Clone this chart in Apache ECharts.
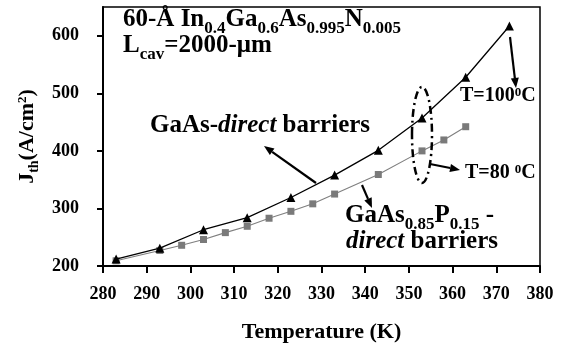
<!DOCTYPE html>
<html><head><meta charset="utf-8">
<script src="https://cdn.jsdelivr.net/npm/echarts@6/dist/echarts.min.js"></script>
<style>html,body{margin:0;padding:0;background:#fff}#c{width:564px;height:345px}</style>
</head><body><div id="c"></div><script>
// ---- data ----
const xTicks = [280, 290, 300, 310, 320, 330, 340, 350, 360, 370, 380];
const yTicks = [200, 300, 400, 500, 600];
const directT = [283, 293, 303, 313, 323, 333, 343, 353, 363, 373];
const directJ = [212, 231, 263, 284, 319, 358, 401, 457, 528, 617];
const gaaspT = [283, 293, 298, 303, 308, 313, 318, 323, 328, 333, 343, 353, 358, 363];
const gaaspJ = [209, 227, 236, 246, 258, 269, 283, 295, 308, 325, 359, 400, 419, 442];
const xName = 'Temperature (K)';

const FF = 'Liberation Serif';
function rs(size, extra) {
  return Object.assign({fontFamily: FF, fontWeight: 'bold', fontSize: size, color: '#000', verticalAlign: 'top', lineHeight: size + 3}, extra || {});
}
const richMain = {
  m: rs(25),
  i: rs(25, {fontStyle: 'italic'}),
  s: rs(17, {lineHeight: 19, padding: [13, 0, 0, 0]}),
  p: rs(15, {lineHeight: 17, padding: [0, 0, 0, 0]})
};
const richSmall = {
  m: rs(20),
  p: rs(13, {lineHeight: 15, padding: [0, 0, 0, 0]})
};

function txt(x, y, text, rich) {
  return {type: 'text', x: x, y: y, z: 100,
    style: {text: text, rich: rich, align: 'left', verticalAlign: 'top', fill: '#000'}};
}
function arrow(x1, y1, x2, y2) {
  const a = Math.atan2(y2 - y1, x2 - x1), L = 10, W = 4;
  const bx = x2 - L * Math.cos(a), by = y2 - L * Math.sin(a);
  const px = -Math.sin(a) * W, py = Math.cos(a) * W;
  return [
    {type: 'line', z: 100, shape: {x1: x1, y1: y1, x2: bx, y2: by}, style: {stroke: '#000', lineWidth: 2.2}},
    {type: 'polygon', z: 100, shape: {points: [[x2, y2], [bx + px, by + py], [bx - px, by - py]]}, style: {fill: '#000'}}
  ];
}

const chart = echarts.init(document.getElementById('c'), null, {renderer: 'canvas'});
chart.setOption({
  animation: false,
  backgroundColor: '#fff',
  grid: {left: 103, right: 24, top: 7, bottom: 79, outerBoundsMode: 'none', containLabel: false,
    show: true, borderColor: '#000', borderWidth: 1.5, backgroundColor: 'transparent'},
  xAxis: {
    type: 'value', min: xTicks[0], max: xTicks[xTicks.length - 1], interval: 10,
    name: xName, nameLocation: 'middle', nameGap: 55,
    nameTextStyle: {fontFamily: FF, fontWeight: 'bold', fontSize: 22, color: '#000'},
    axisLine: {show: true, lineStyle: {color: '#000', width: 2}},
    axisTick: {show: true, inside: false, length: 7, lineStyle: {color: '#000', width: 2}},
    axisLabel: {fontFamily: FF, fontWeight: 'bold', fontSize: 18, color: '#000', margin: 19},
    splitLine: {show: false}
  },
  yAxis: {
    type: 'value', min: 200, max: 650, interval: 100,
    name: '{m|J}{s|th}{m|(A/cm}{p|2}{m|)}', nameLocation: 'middle', nameGap: 62,
    nameTextStyle: {rich: {
      m: rs(22, {verticalAlign: 'top'}),
      s: rs(14, {lineHeight: 16, padding: [11, 0, 0, 0]}),
      p: rs(13, {lineHeight: 15})
    }},
    axisLine: {show: true, lineStyle: {color: '#000', width: 2}},
    axisTick: {show: true, inside: false, length: 6, customValues: yTicks, lineStyle: {color: '#000', width: 2}},
    axisLabel: {fontFamily: FF, fontWeight: 'bold', fontSize: 18, color: '#000', margin: 24, customValues: yTicks},
    splitLine: {show: false}
  },
  series: [
    {type: 'line', name: 'GaAs-direct', data: directT.map((t, k) => [t, directJ[k]]),
      symbol: 'triangle', symbolSize: 9, lineStyle: {color: '#000', width: 1.3},
      itemStyle: {color: '#000'}, z: 3},
    {type: 'line', name: 'GaAsP-direct', data: gaaspT.map((t, k) => [t, gaaspJ[k]]),
      symbol: 'rect', symbolSize: 7, lineStyle: {color: '#7f7f7f', width: 1.1},
      itemStyle: {color: '#7a7a7a'}, z: 2}
  ]
});

const g = [];
g.push(txt(123, 7, '{m|60-Å In}{s|0.4}{m|Ga}{s|0.6}{m|As}{s|0.995}{m|N}{s|0.005}', richMain));
g.push(txt(123, 33, '{m|L}{s|cav}{m|=2000-μm}', richMain));
g.push(txt(150, 113, '{m|GaAs-}{i|direct}{m| barriers}', richMain));
g.push(txt(345, 203, '{m|GaAs}{s|0.85}{m|P}{s|0.15}{m| -}', richMain));
g.push(txt(346, 229, '{i|direct}{m| barriers}', richMain));
g.push(txt(460, 86, '{m|T=100}{p|0}{m|C}', richSmall));
g.push(txt(465, 163, '{m|T=80 }{p|0}{m|C}', richSmall));
g.push.apply(g, arrow(316, 183, 264, 146));
g.push.apply(g, arrow(362, 185, 372, 208));
g.push.apply(g, arrow(510, 37, 516, 88));
g.push.apply(g, arrow(430, 164, 460, 170));
g.push({type: 'ellipse', z: 100, shape: {cx: 422, cy: 135, rx: 10, ry: 48},
  style: {fill: 'none', stroke: '#000', lineWidth: 2.5, lineDash: [8, 4, 2, 4]}});
chart.setOption({graphic: g});
</script></body></html>
